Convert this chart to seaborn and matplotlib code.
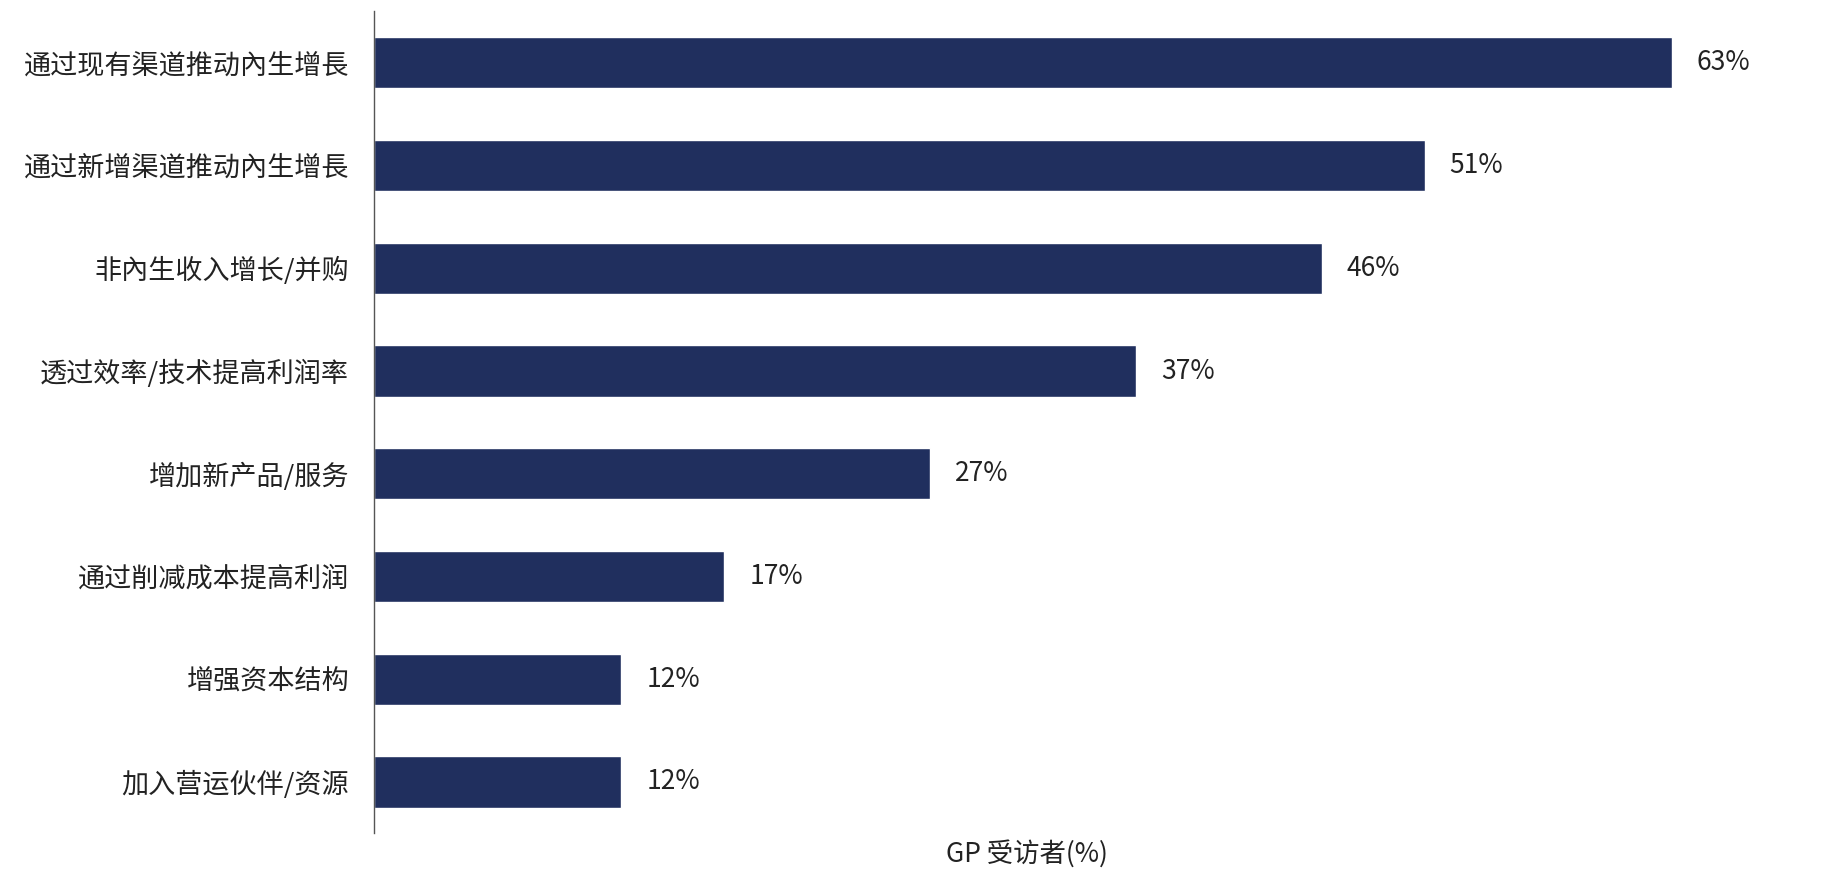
import matplotlib
matplotlib.use("Agg")
import matplotlib.pyplot as plt
import seaborn as sns
import pandas as pd

categories = ["通过现有渠道推动內生增長", "通过新增渠道推动內生增長", "非內生收入增长/并购",
              "透过效率/技术提高利润率", "增加新产品/服务", "通过削减成本提高利润",
              "增强资本结构", "加入营运伙伴/资源"]
values = [63, 51, 46, 37, 27, 17, 12, 12]

sns.set_theme(style="white")
plt.rcParams['font.family'] = ['Noto Sans CJK SC', 'DejaVu Sans']

df = pd.DataFrame({"cat": categories, "val": values})
fig = plt.figure(figsize=(18.3, 8.8), dpi=100)
ax = fig.add_axes([0.2045, 0.053, 0.7925, 0.934])
sns.barplot(data=df, x="val", y="cat", color="#202F5E", width=0.5, ax=ax, saturation=1)
ax.set_xlim(0, 70.4)
ax.set_ylim(7.5, -0.5)
for i, v in enumerate(values):
    ax.text(v + 1.2, i, f"{v}%", va="center", ha="left", fontsize=19, color="#222222")
ax.set_xticks([])
ax.set_xlabel("")
ax.set_ylabel("")
ax.tick_params(axis="y", labelsize=19.5, colors="#222222", length=0, pad=18)
for s in ["top", "right", "bottom"]:
    ax.spines[s].set_visible(False)
ax.spines["left"].set_color("#555555")
ax.spines["left"].set_linewidth(1)
fig.text(0.561, 0.014, "GP 受访者(%)", ha="center", va="bottom", fontsize=19, color="#222222")
fig.savefig("out.png", dpi=100)
